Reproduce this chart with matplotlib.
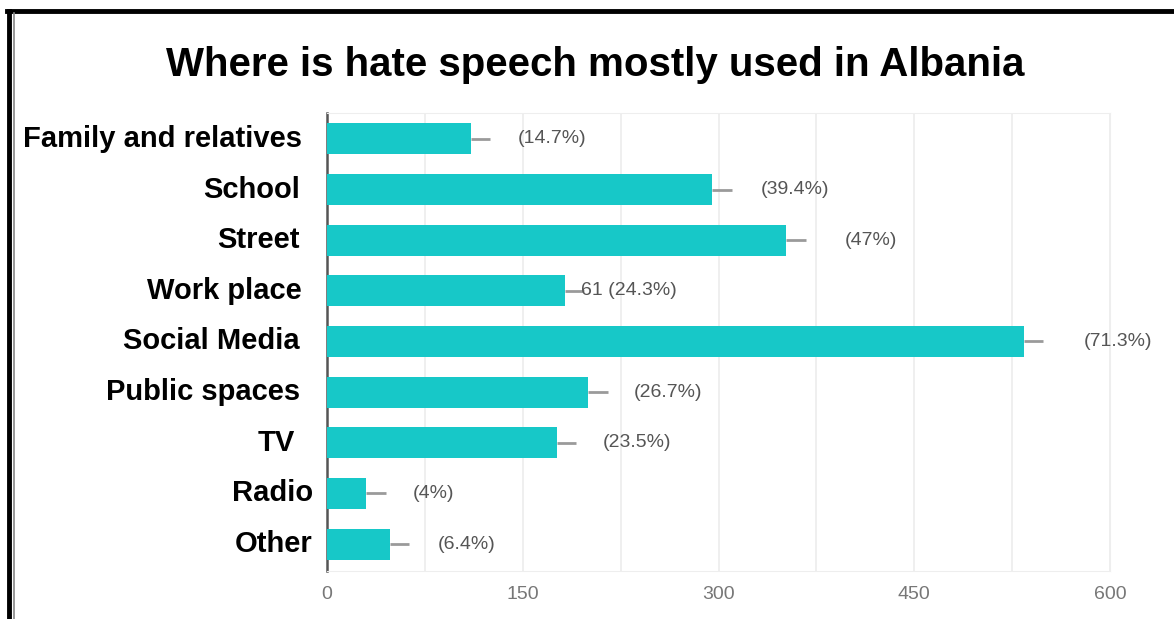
import matplotlib
matplotlib.use("Agg")
import matplotlib.pyplot as plt
from matplotlib import font_manager
from matplotlib.transforms import offset_copy, blended_transform_factory

# data
places = ['Family and relatives', 'School', 'Street', 'Work place', 'Social Media',
          'Public spaces', 'TV', 'Radio', 'Other']
counts = [110, 295, 352, 182, 534, 200, 176, 30, 48]
value_labels = ['(14.7%)', '(39.4%)', '(47%)', '61 (24.3%)', '(71.3%)',
                '(26.7%)', '(23.5%)', '(4%)', '(6.4%)']
xticks = [0, 150, 300, 450, 600]

# pick a narrow font for the grey labels if there is one
names = set(f.name for f in font_manager.fontManager.ttflist)
narrow = 'Liberation Sans Narrow' if 'Liberation Sans Narrow' in names else 'Liberation Sans'
bold_font = 'Liberation Sans'

bar_color = '#17c8c8'
grey_txt = '#555555'

fig = plt.figure(figsize=(11.74, 6.19), dpi=100)
W, H = 1174, 619
ax = fig.add_axes([327 / W, 1 - 571 / H, (1110 - 327) / W, (571 - 113) / H])

y = list(range(len(places)))
ax.barh(y, counts, height=0.61, color=bar_color, zorder=3)

# little leader stubs after every bar
ax.hlines(y, counts, [c + 15 for c in counts], color='#9a9a9a', lw=2, zorder=3)

# gap (pixels) from bar end to where the grey text starts
label_gap = [47, 49, 58, 16, 60, 46, 46, 47, 48]
for i in range(len(places)):
    ax.annotate(value_labels[i], (counts[i], y[i]), xytext=(label_gap[i], 0),
                textcoords='offset pixels', ha='left', va='center',
                fontsize=14, color=grey_txt, family=narrow, zorder=4)

ax.set_xlim(0, 600)
ax.set_ylim(8.53, -0.51)
ax.set_xticks(xticks)
ax.set_xticklabels([str(t) for t in xticks], fontsize=14, color='#777777', family=narrow)
ax.set_xticks(range(75, 600, 150), minor=True)
ax.tick_params(axis='x', which='both', length=0, pad=11)
ax.grid(axis='x', which='both', color='#ececec', lw=1.2, zorder=0)

# category names drawn by hand so some can sit a bit further right
ax.set_yticks([])
name_shift = [0, -2, -2, 0, -2, -2, -7, 11, 11]
trans = blended_transform_factory(ax.transAxes, ax.transData)
for i, p in enumerate(places):
    t = offset_copy(trans, fig=fig, x=name_shift[i] - 25, y=0, units='dots')
    ax.text(0, y[i], p, transform=t, ha='right', va='center',
            fontsize=21, fontweight='bold', color='black', family=bold_font)

for s in ['top', 'right', 'bottom']:
    ax.spines[s].set_color('#eeeeee')
ax.spines['left'].set_color('#555555')
ax.spines['left'].set_linewidth(1.8)

fig.text(595 / W, 1 - 65 / H, 'Where is hate speech mostly used in Albania',
         ha='center', va='center', fontsize=29, fontweight='bold', family=bold_font)

# frame round the picture (top and left edges only are visible)
fig.add_artist(plt.Line2D([7 / W, 1], [1 - 11 / H, 1 - 11 / H], color='black', lw=3.5,
                          transform=fig.transFigure))
fig.add_artist(plt.Line2D([9 / W, 9 / W], [0, 1 - 11 / H], color='black', lw=3.5,
                          transform=fig.transFigure))
fig.add_artist(plt.Line2D([13.5 / W, 13.5 / W], [0, 1 - 13 / H], color='#888888', lw=1.2,
                          transform=fig.transFigure))

fig.savefig('out.png', dpi=100)
